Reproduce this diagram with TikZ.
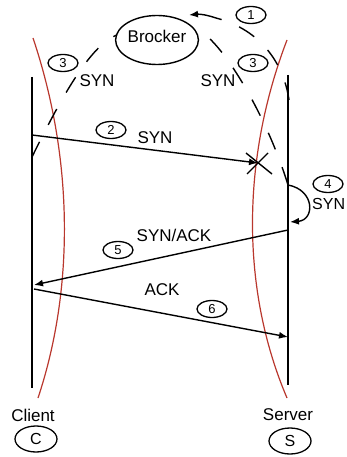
\documentclass[tikz,border=0pt]{standalone}
\usepackage{fontspec}
\setmainfont{Liberation Sans}
\usetikzlibrary{shapes.geometric,arrows.meta}
\definecolor{redline}{RGB}{185,55,45}
\begin{document}
\begin{tikzpicture}[x=1pt,y=-1pt,
  lbl/.style={font=\fontsize{17}{20}\selectfont, inner sep=0pt},
  num/.style={ellipse, draw, line width=1.3pt, minimum width=30pt, minimum height=17pt, inner sep=0pt, font=\fontsize{13}{15}\selectfont},
  endpt/.style={ellipse, draw, line width=1.3pt, minimum width=42pt, minimum height=26pt, inner sep=0pt, font=\fontsize{16}{19}\selectfont},
  lifeline/.style={line width=1.6pt},
  msg/.style={line width=1.4pt, -{Latex[length=9pt,width=7pt]}},
  dsh/.style={line width=1.4pt, dash pattern=on 18pt off 19pt},
  bound/.style={redline, line width=1.2pt}]
\useasboundingbox (0,0) rectangle (346,457);
% boundaries
\draw[bound] (33,38) .. controls (74,160) and (74,290) .. (38,398);
\draw[bound] (287,40) .. controls (241,160) and (241,290) .. (287,398);
% lifelines
\coordinate (ctop) at (32,77);
\coordinate (cbot) at (32,388);
\coordinate (stop) at (288,75);
\coordinate (sbot) at (288,385);
\draw[lifeline] (ctop) -- (cbot);
\draw[lifeline] (stop) -- (sbot);
% broker
\node[ellipse, draw, line width=1.4pt, minimum width=80pt, minimum height=49pt, inner sep=0pt, font=\fontsize{17}{20}\selectfont] (broker) at (157,40) {\raisebox{7pt}{Brocker}};
% step 1
\coordinate (s1a) at (289,100);
\coordinate (s1b) at (216,18);
\coordinate (s1c) at (189,15);
\draw[dsh] (s1a) .. controls (284,65) and (262,30) .. (s1b);
\draw[msg] (s1b) to[bend right=12] (s1c);
\node[num] (n1) at (251,15) {1};
% step 3 (right)
\coordinate (b3r) at (210,39);
\coordinate (s3r) at (288,185);
\draw[dsh] (b3r) .. controls (232,60) and (268,120) .. (s3r);
\node[num] (n3r) at (253,63) {3};
\node[lbl] (syn3r) at (218,81) {SYN};
% step 3 (left)
\coordinate (b3l) at (117,35);
\coordinate (c3l) at (32,157);
\draw[dsh, dash phase=14pt] (b3l) .. controls (90,45) and (60,100) .. (c3l);
\node[num] (n3l) at (63,63) {3};
\node[lbl] (syn3l) at (97,81) {SYN};
% step 2
\coordinate (c2) at (32,135);
\coordinate (x2) at (258,163);
\draw[msg] (c2) -- (x2);
\draw[line width=1.4pt] (246,153) -- (272,174) (247,174) -- (268,153);
\node[num] (n2) at (111,130) {2};
\node[lbl] (syn2) at (155,138) {SYN};
% step 4
\coordinate (s4a) at (288,185);
\coordinate (s4b) at (290,222);
\draw[msg] (s4a) .. controls (315,190) and (315,220) .. (s4b);
\node[num] (n4) at (328,184) {4};
\node[lbl, anchor=west, font=\fontsize{16}{19}\selectfont] (syn4) at (312,204) {SYN};
% step 5
\coordinate (s5) at (288,230);
\coordinate (c5) at (34,285);
\draw[msg] (s5) -- (c5);
\node[lbl] (synack) at (174,235) {SYN/ACK};
\node[num] (n5) at (118,250) {5};
% step 6
\coordinate (c6) at (34,289);
\coordinate (s6) at (288,337);
\draw[msg] (c6) -- (s6);
\node[lbl] (ack) at (162,290) {ACK};
\node[num] (n6) at (212,309) {6};
% endpoints
\node[lbl] (client) at (33,415) {Client};
\node[endpt] (cc) at (36,439) {C};
\node[lbl] (server) at (288,415) {Server};
\node[endpt] (ss) at (290,441) {S};
\end{tikzpicture}
\end{document}
